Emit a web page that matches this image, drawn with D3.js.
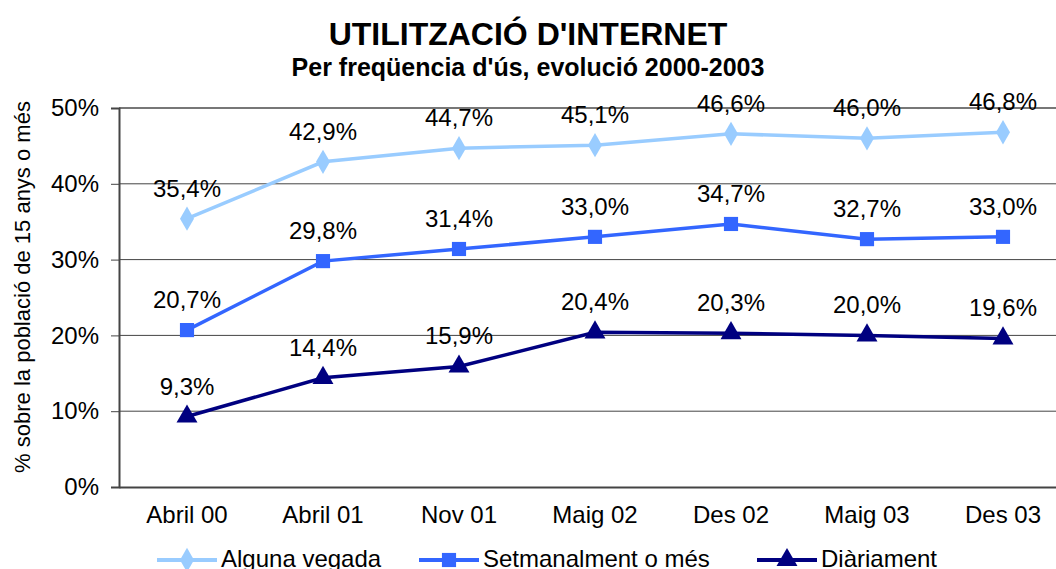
<!DOCTYPE html>
<html>
<head>
<meta charset="utf-8">
<script src="https://cdn.jsdelivr.net/npm/d3@7"></script>
<style>
  html, body { margin: 0; padding: 0; background: #fff; }
  svg { display: block; font-family: "Liberation Sans", Arial, sans-serif; }
</style>
</head>
<body>
<svg id="chart" width="1056" height="569"></svg>
<script>
// Periods surveyed
const categories = ["Abril 00", "Abril 01", "Nov 01", "Maig 02", "Des 02", "Maig 03", "Des 03"];

// Share of the population aged 15+ (%) by frequency of use
const algunaVegada   = [35.4, 42.9, 44.7, 45.1, 46.6, 46.0, 46.8];
const setmanalment   = [20.7, 29.8, 31.4, 33.0, 34.7, 32.7, 33.0];
const diariament     = [9.3, 14.4, 15.9, 20.4, 20.3, 20.0, 19.6];

const yTicks = [0, 10, 20, 30, 40, 50];

(function () {
const series = [
  { name: "Alguna vegada",        values: algunaVegada, color: "#99CCFF", symbol: d3.symbolDiamond,  size: 170 },
  { name: "Setmanalment o més",   values: setmanalment, color: "#3366FF", symbol: d3.symbolSquare,   size: 200 },
  { name: "Diàriament",           values: diariament,   color: "#000080", symbol: d3.symbolTriangle, size: 190 }
];

const fmt = v => v.toFixed(1).replace(".", ",") + "%";
const FONT = "Liberation Sans, Arial, sans-serif";

const svg = d3.select("#chart");
const plotL = 119, plotR = 1071, plotT = 108, plotB = 487;

const x = d3.scaleBand().domain(categories).range([plotL, plotR]);
const y = d3.scaleLinear().domain([0, 50]).range([plotB, plotT]);

// Titles
svg.append("text").attr("x", 528).attr("y", 45).attr("text-anchor", "middle")
  .attr("font-size", 32).attr("font-weight", "bold").text("UTILITZACIÓ D'INTERNET");
svg.append("text").attr("x", 528).attr("y", 76).attr("text-anchor", "middle")
  .attr("font-size", 25).attr("font-weight", "bold").text("Per freqüencia d'ús, evolució 2000-2003");

// Gridlines
svg.append("g").selectAll("line").data(yTicks.filter(t => t > 0)).join("line")
  .attr("x1", plotL).attr("x2", plotR)
  .attr("y1", d => y(d)).attr("y2", d => y(d))
  .attr("stroke", d => d === 50 ? "#777" : "#444").attr("stroke-width", d => d === 50 ? 2 : 1);

// Y axis
const yAxis = svg.append("g").attr("transform", `translate(${plotL},0)`)
  .call(d3.axisLeft(y).tickValues(yTicks).tickFormat(d => d + "%").tickSize(8).tickPadding(12));
yAxis.select(".domain").attr("stroke", "#444").attr("stroke-width", 2);
yAxis.selectAll(".tick line").attr("stroke", "#444");
yAxis.selectAll("text").attr("font-size", 24).attr("fill", "#000").attr("font-family", FONT);

// X axis
const xAxis = svg.append("g").attr("transform", `translate(0,${plotB})`)
  .call(d3.axisBottom(x).tickSize(0).tickPadding(19));
xAxis.select(".domain").attr("stroke", "#444").attr("stroke-width", 2);
xAxis.selectAll("text").attr("font-size", 24).attr("fill", "#000").attr("font-family", FONT);

// Y axis title
svg.append("text")
  .attr("transform", "translate(30,287) rotate(-90)")
  .attr("text-anchor", "middle").attr("font-size", 22)
  .text("% sobre la població de 15 anys o més");

const cx = c => x(c) + x.bandwidth() / 2;
const line = d3.line().x((d, i) => cx(categories[i])).y(d => y(d));

series.forEach(s => {
  const g = svg.append("g");
  g.append("path").datum(s.values).attr("d", line)
    .attr("fill", "none").attr("stroke", s.color).attr("stroke-width", 3.5);
  g.selectAll("path.m").data(s.values).join("path").attr("class", "m")
    .attr("transform", (d, i) => `translate(${cx(categories[i])},${y(d)})`)
    .attr("d", d3.symbol().type(s.symbol).size(s.size))
    .attr("fill", s.color);
  g.selectAll("text").data(s.values).join("text")
    .attr("x", (d, i) => cx(categories[i]))
    .attr("y", d => y(d) - 22)
    .attr("text-anchor", "middle").attr("font-size", 24)
    .text(fmt);
});

// Legend (bottom row, partly clipped by the canvas edge)
const legendX = [157, 419, 757];
series.forEach((s, i) => {
  const g = svg.append("g").attr("transform", `translate(${legendX[i]},560)`);
  g.append("line").attr("x1", 0).attr("x2", 60).attr("stroke", s.color).attr("stroke-width", 4);
  g.append("path").attr("transform", "translate(30,0)")
    .attr("d", d3.symbol().type(s.symbol).size(s.size)).attr("fill", s.color);
  g.append("text").attr("x", 64).attr("y", 7).attr("font-size", 24).text(s.name);
});
})();
</script>
</body>
</html>
